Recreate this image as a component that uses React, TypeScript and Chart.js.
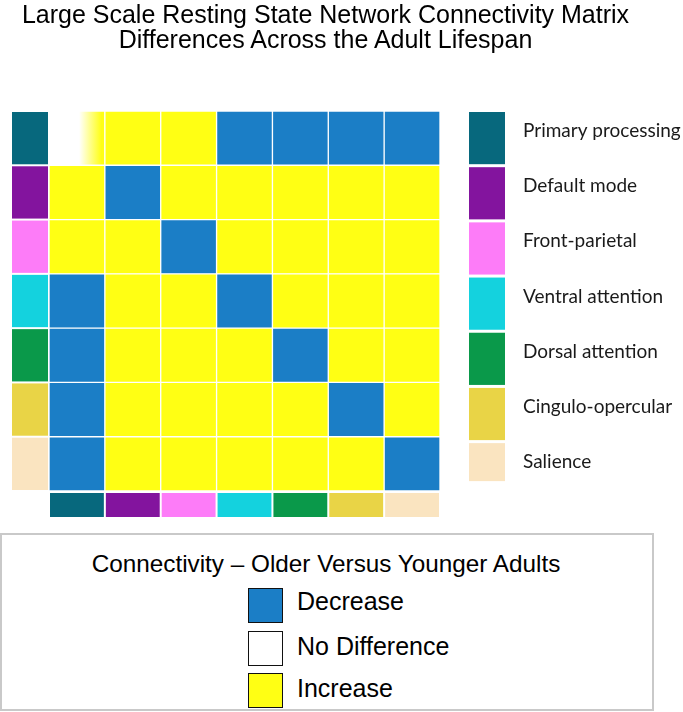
import React, { useEffect, useRef } from 'react';
import { Chart, registerables } from 'chart.js';

Chart.register(...registerables);

const TITLE_LINES = [
  'Large Scale Resting State Network Connectivity Matrix',
  'Differences Across the Adult Lifespan',
];

const NETWORKS = [
  'Primary processing',
  'Default mode',
  'Front-parietal',
  'Ventral attention',
  'Dorsal attention',
  'Cingulo-opercular',
  'Salience',
];

const NETWORK_COLORS = [
  '#07687d',
  '#83149e',
  '#fd7cf8',
  '#14d2de',
  '#0a994a',
  '#e9d446',
  '#fae4c0',
];

// Connectivity codes: -1 = decrease, 0 = no difference, 1 = increase
const ROW_PRIMARY = [0, 1, 1, -1, -1, -1, -1];
const ROW_DEFAULT = [1, -1, 1, 1, 1, 1, 1];
const ROW_FRONT_PARIETAL = [1, 1, -1, 1, 1, 1, 1];
const ROW_VENTRAL = [-1, 1, 1, -1, 1, 1, 1];
const ROW_DORSAL = [-1, 1, 1, 1, -1, 1, 1];
const ROW_CINGULO = [-1, 1, 1, 1, 1, -1, 1];
const ROW_SALIENCE = [-1, 1, 1, 1, 1, 1, -1];

const MATRIX = [
  ROW_PRIMARY,
  ROW_DEFAULT,
  ROW_FRONT_PARIETAL,
  ROW_VENTRAL,
  ROW_DORSAL,
  ROW_CINGULO,
  ROW_SALIENCE,
];

const LEGEND_TITLE = 'Connectivity \u2013 Older Versus Younger Adults';
const CODE_VALUES = [-1, 0, 1];
const CODE_LABELS = ['Decrease', 'No Difference', 'Increase'];

const BLUE = '#1b7ec6';
const YELLOW = '#ffff14';
const WHITE = '#ffffff';

function codeColor(code: number): string {
  if (code < 0) return BLUE;
  if (code > 0) return YELLOW;
  return WHITE;
}

function cellFill(c: any, code: number): any {
  if (code !== 0) return codeColor(code);
  const chart = c.chart;
  const x = chart.scales && chart.scales.x;
  if (!x || !chart.chartArea) return WHITE;
  const cx = x.getPixelForValue(c.dataIndex);
  const half = (x.getPixelForValue(1) - x.getPixelForValue(0)) / 2;
  const g = chart.ctx.createLinearGradient(cx - half, 0, cx + half, 0);
  g.addColorStop(0, WHITE);
  g.addColorStop(0.54, WHITE);
  g.addColorStop(0.94, YELLOW);
  g.addColorStop(1, YELLOW);
  return g;
}

const stripsPlugin = {
  id: 'networkStrips',
  afterDatasetsDraw(chart: any) {
    const { ctx, chartArea, scales } = chart;
    const x = scales.x;
    const y = scales.y;
    const n = NETWORKS.length;
    const colW = x.getPixelForValue(1) - x.getPixelForValue(0);
    const rowH = Math.abs(y.getPixelForValue(0) - y.getPixelForValue(1));
    const legendPitch = rowH + 0.9;
    ctx.save();
    NETWORKS.forEach((name, i) => {
      const top = y.getPixelForValue(n - i);
      ctx.fillStyle = NETWORK_COLORS[i];
      // left strip
      ctx.fillRect(chartArea.left - 37, top + 1, 36, rowH - 2);
      // bottom strip
      const cx = x.getPixelForValue(i);
      ctx.fillRect(cx - colW / 2 + 1, chartArea.bottom + 2, colW - 2, 24);
      // right legend
      const lt = chartArea.top + i * legendPitch + 1;
      const lh = i === n - 1 ? 38 : legendPitch - 3;
      ctx.fillRect(chartArea.right + 29, lt, 36, lh);
      ctx.fillStyle = '#1a1a1a';
      ctx.font = '19px Lato';
      ctx.textBaseline = 'alphabetic';
      ctx.textAlign = 'left';
      ctx.fillText(name, chartArea.right + 83, lt + 25);
    });
    ctx.restore();
  },
};

const SANS = '"Liberation Sans", Arial, Helvetica, sans-serif';

export default function App() {
  const canvasRef = useRef<HTMLCanvasElement | null>(null);

  useEffect(() => {
    const canvas = canvasRef.current;
    if (!canvas) return;
    const datasets = MATRIX.map((row, r) => ({
      label: NETWORKS[r],
      data: row.map(() => 1),
      backgroundColor: (c: any) => cellFill(c, row[c.dataIndex]),
      borderColor: WHITE,
      borderWidth: 1,
      borderSkipped: false as const,
      barPercentage: 1,
      categoryPercentage: 1,
    })).reverse();

    const chart = new Chart(canvas, {
      type: 'bar',
      data: { labels: NETWORKS, datasets },
      options: {
        animation: false,
        responsive: false,
        devicePixelRatio: 1,
        events: [],
        layout: { padding: { left: 49, right: 243, top: 111, bottom: 37 } },
        scales: {
          x: { stacked: true, display: false },
          y: { stacked: true, display: false, min: 0, max: 7 },
        },
        plugins: {
          legend: { display: false },
          tooltip: { enabled: false },
          title: { display: false },
        },
      },
      plugins: [stripsPlugin],
    });
    return () => chart.destroy();
  }, []);

  const itemTops = [588, 630.5, 673];
  const textTops = [588.8, 634.3, 676.3];

  return (
    <div style={{ position: 'absolute', left: 0, top: 0, width: 683, height: 712, background: '#fff', overflow: 'hidden' }}>
      <canvas ref={canvasRef} width={683} height={528} style={{ position: 'absolute', left: 0, top: 0, width: 683, height: 528 }} />
      <div
        style={{
          position: 'absolute', left: 0, top: 1.5, width: 651, textAlign: 'center',
          fontFamily: SANS, fontSize: 25, lineHeight: '25px', color: '#000', whiteSpace: 'nowrap',
        }}
      >
        {TITLE_LINES.map((t) => (
          <div key={t}>{t}</div>
        ))}
      </div>
      <div
        style={{
          position: 'absolute', left: 0, top: 533, width: 654, height: 178,
          border: '2px solid #c9c9c9', boxSizing: 'border-box',
        }}
      />
      <div
        style={{
          position: 'absolute', left: 0, top: 552, width: 652, textAlign: 'center',
          fontFamily: SANS, fontSize: 24.3, lineHeight: '24px', color: '#000', whiteSpace: 'nowrap',
        }}
      >
        {LEGEND_TITLE}
      </div>
      {CODE_LABELS.map((label, i) => (
        <React.Fragment key={label}>
          <div
            style={{
              position: 'absolute', left: 248, top: itemTops[i], width: 35, height: 35,
              background: codeColor(CODE_VALUES[i]), border: '1.5px solid #111', boxSizing: 'border-box',
            }}
          />
          <div
            style={{
              position: 'absolute', left: 297, top: textTops[i],
              fontFamily: SANS, fontSize: 25, lineHeight: '25px', color: '#000', whiteSpace: 'nowrap',
            }}
          >
            {label}
          </div>
        </React.Fragment>
      ))}
    </div>
  );
}
